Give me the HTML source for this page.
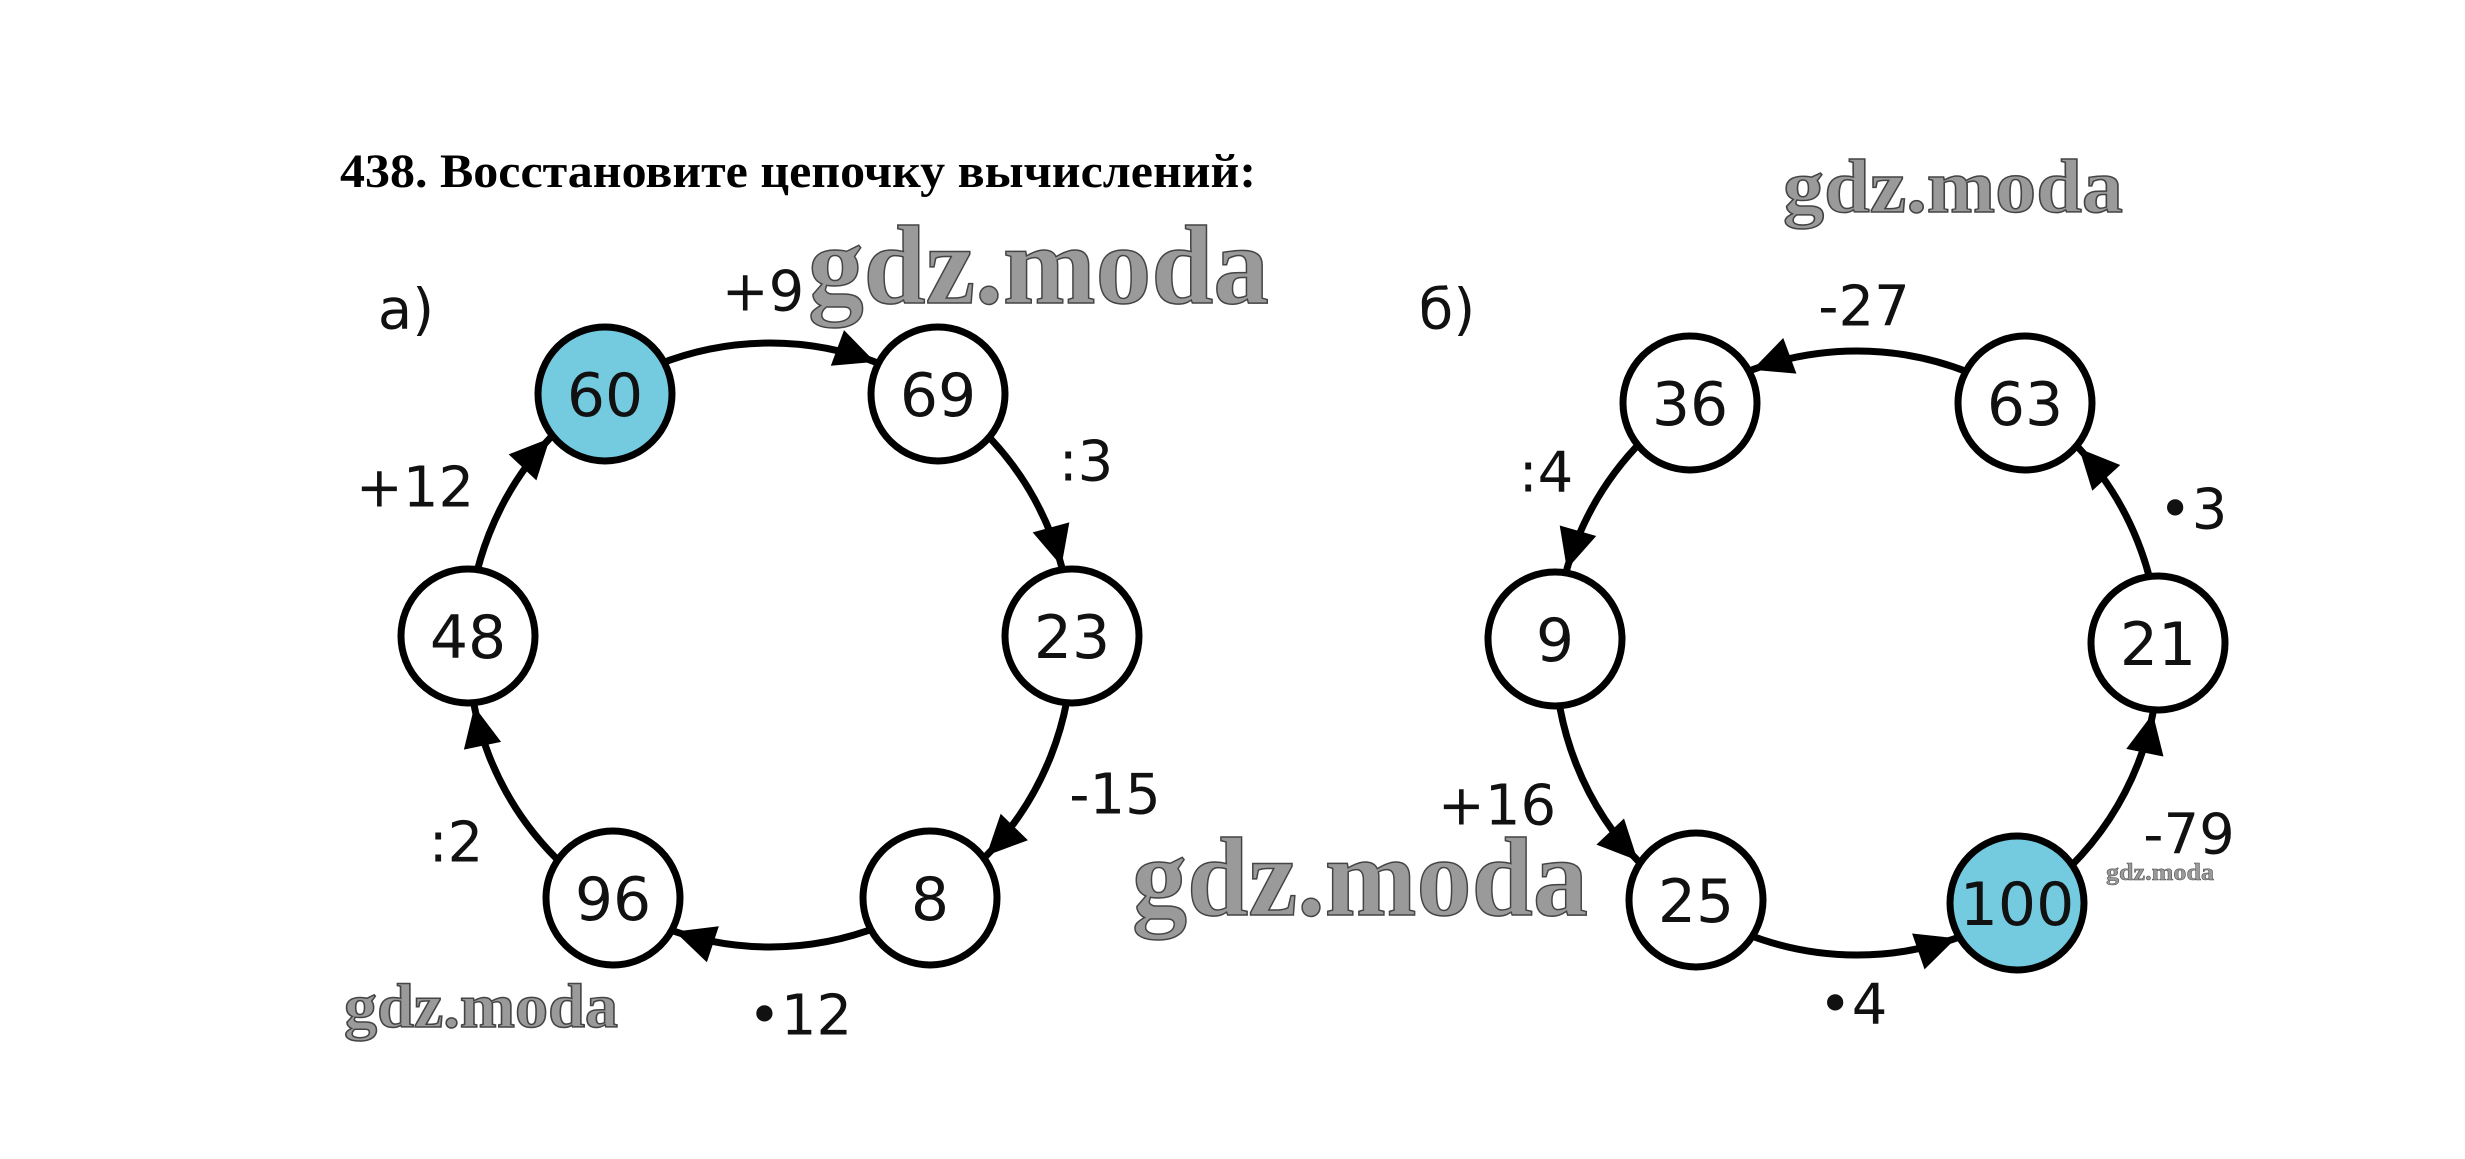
<!DOCTYPE html>
<html><head><meta charset="utf-8"><style>
html,body{margin:0;padding:0;background:#fff;}
body{width:2465px;height:1159px;position:relative;overflow:hidden;}
svg{position:absolute;left:0;top:0;}
</style></head><body>
<svg id="s" width="2465" height="1159" xmlns="http://www.w3.org/2000/svg">
<text x="340" y="187" font-family="Liberation Serif, serif" font-weight="bold" font-size="48" fill="#000" textLength="916" lengthAdjust="spacingAndGlyphs">438. Восстановите цепочку вычислений:</text>
<g font-family="DejaVu Sans, sans-serif" font-size="56" fill="#111" text-anchor="middle" dominant-baseline="central">
<text x="406" y="310">a)</text>
<text x="763" y="292">+9</text>
<text x="1086" y="462">:3</text>
<text x="415" y="488">+12</text>
<text x="456" y="843">:2</text>
<text x="1115" y="795">-15</text>
<text x="800" y="1016">•12</text>
<text x="1447" y="310">б)</text>
<text x="1864" y="307">-27</text>
<text x="1546" y="473">:4</text>
<text x="2193" y="510">•3</text>
<text x="1497" y="806">+16</text>
<text x="2189" y="835">-79</text>
<text x="1853" y="1005">•4</text>
</g>
<g id="d"></g>
<g font-family="Liberation Serif, serif" font-weight="bold" fill="#9a9a9a" stroke="#444" stroke-width="1.5" lengthAdjust="spacingAndGlyphs">
<text x="808" y="303" font-size="112" textLength="461" lengthAdjust="spacingAndGlyphs">gdz.moda</text>
<text x="1783" y="212" font-size="76" textLength="340" lengthAdjust="spacingAndGlyphs">gdz.moda</text>
<text x="344" y="1027" font-size="62" textLength="274" lengthAdjust="spacingAndGlyphs">gdz.moda</text>
<text x="1132" y="915" font-size="112" textLength="456" lengthAdjust="spacingAndGlyphs">gdz.moda</text>
<text x="2106" y="880" font-size="24" stroke-width="0.5" textLength="108" lengthAdjust="spacingAndGlyphs">gdz.moda</text>
</g>
</svg>
<script>
var g=document.getElementById('d'),NS='http://www.w3.org/2000/svg';
function el(t,a){var e=document.createElementNS(NS,t);for(var k in a)e.setAttribute(k,a[k]);g.appendChild(e);return e;}
function ring(cx,cy,R,nodes,dir){
 el('circle',{cx:cx,cy:cy,r:R,fill:'none',stroke:'#000','stroke-width':7});
 var n=nodes.length,d=0.235;
 for(var i=0;i<n;i++){
  var nd=nodes[(i+1)%n];
  var th=Math.atan2(nd[1]-cy,nd[0]-cx)-dir*d;
  var tx=cx+R*Math.cos(th),ty=cy+R*Math.sin(th);
  var ux=-Math.sin(th)*dir,uy=Math.cos(th)*dir;
  var L=40,W=19;
  var bx=tx-ux*L,by=ty-uy*L;
  el('polygon',{points:tx+','+ty+' '+(bx-uy*W)+','+(by+ux*W)+' '+(bx+uy*W)+','+(by-ux*W),fill:'#000'});
 }
 nodes.forEach(function(nd){
  el('circle',{cx:nd[0],cy:nd[1],r:67,fill:nd[3]?'#74cbe0':'#fff',stroke:'#000','stroke-width':7});
  var t=el('text',{x:nd[0],y:nd[1]+2,'font-family':'DejaVu Sans, sans-serif','font-size':60,'text-anchor':'middle','dominant-baseline':'central',fill:'#111'});
  t.textContent=nd[2];
 });
}
ring(770,645,302,[[605,394,'60',1],[938,394,'69'],[1072,636,'23'],[930,898,'8'],[613,898,'96'],[468,636,'48']],1);
ring(1857,653,302,[[2017,903,'100',1],[2158,643,'21'],[2025,403,'63'],[1690,403,'36'],[1555,639,'9'],[1696,900,'25']],-1);
</script>
</body></html>
